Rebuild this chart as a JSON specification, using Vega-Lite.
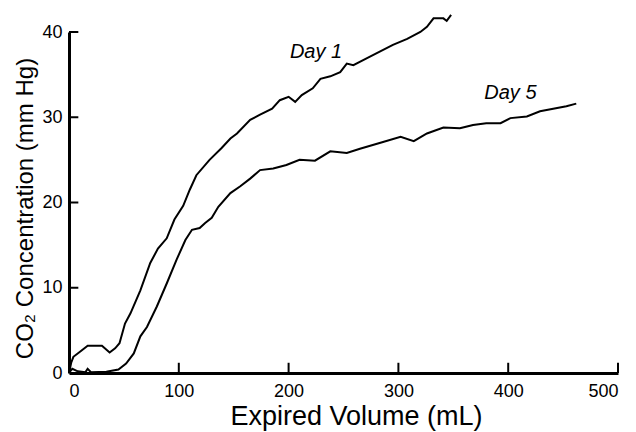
{
  "$schema": "https://vega.github.io/schema/vega-lite/v6.json",
  "width": 549,
  "height": 341,
  "autosize": {"type": "none"},
  "padding": {"left": 69, "top": 32, "right": 18, "bottom": 59},
  "background": "white",
  "config": {
    "view": {"stroke": null},
    "font": "Liberation Sans",
    "axis": {
      "grid": false,
      "domainColor": "black",
      "domainWidth": 3,
      "ticks": false,
      "tickSize": 0,
      "labelFont": "Liberation Sans",
      "labelFontSize": 18,
      "labelColor": "black",
      "titleFont": "Liberation Sans",
      "titleFontWeight": "normal",
      "titleColor": "black"
    }
  },
  "datasets": {
    "curves": [
      {"series": "Day 1", "volume": 0, "co2": 0},
      {"series": "Day 1", "volume": 2, "co2": 1.2},
      {"series": "Day 1", "volume": 4, "co2": 1.9},
      {"series": "Day 1", "volume": 10, "co2": 2.5},
      {"series": "Day 1", "volume": 17, "co2": 3.2},
      {"series": "Day 1", "volume": 30, "co2": 3.2},
      {"series": "Day 1", "volume": 37, "co2": 2.4},
      {"series": "Day 1", "volume": 42, "co2": 2.9},
      {"series": "Day 1", "volume": 46, "co2": 3.5},
      {"series": "Day 1", "volume": 51, "co2": 5.8},
      {"series": "Day 1", "volume": 56, "co2": 7.0},
      {"series": "Day 1", "volume": 65, "co2": 9.7},
      {"series": "Day 1", "volume": 74, "co2": 12.9},
      {"series": "Day 1", "volume": 81, "co2": 14.6},
      {"series": "Day 1", "volume": 89, "co2": 15.8},
      {"series": "Day 1", "volume": 96, "co2": 18.0},
      {"series": "Day 1", "volume": 104, "co2": 19.6},
      {"series": "Day 1", "volume": 110, "co2": 21.5},
      {"series": "Day 1", "volume": 116, "co2": 23.2},
      {"series": "Day 1", "volume": 128, "co2": 25.0},
      {"series": "Day 1", "volume": 139, "co2": 26.4},
      {"series": "Day 1", "volume": 147, "co2": 27.5},
      {"series": "Day 1", "volume": 153, "co2": 28.1},
      {"series": "Day 1", "volume": 165, "co2": 29.7},
      {"series": "Day 1", "volume": 174, "co2": 30.3},
      {"series": "Day 1", "volume": 185, "co2": 31.0},
      {"series": "Day 1", "volume": 192, "co2": 32.0},
      {"series": "Day 1", "volume": 200, "co2": 32.4},
      {"series": "Day 1", "volume": 206, "co2": 31.8},
      {"series": "Day 1", "volume": 212, "co2": 32.6},
      {"series": "Day 1", "volume": 222, "co2": 33.4},
      {"series": "Day 1", "volume": 229, "co2": 34.5},
      {"series": "Day 1", "volume": 238, "co2": 34.8},
      {"series": "Day 1", "volume": 247, "co2": 35.3},
      {"series": "Day 1", "volume": 253, "co2": 36.3},
      {"series": "Day 1", "volume": 259, "co2": 36.1},
      {"series": "Day 1", "volume": 271, "co2": 36.9},
      {"series": "Day 1", "volume": 283, "co2": 37.7},
      {"series": "Day 1", "volume": 295, "co2": 38.5},
      {"series": "Day 1", "volume": 308, "co2": 39.2},
      {"series": "Day 1", "volume": 320, "co2": 40.0},
      {"series": "Day 1", "volume": 326, "co2": 40.6},
      {"series": "Day 1", "volume": 332, "co2": 41.6},
      {"series": "Day 1", "volume": 341, "co2": 41.6},
      {"series": "Day 1", "volume": 344, "co2": 41.3},
      {"series": "Day 1", "volume": 348, "co2": 42.0},
      {"series": "Day 5", "volume": 0, "co2": 0},
      {"series": "Day 5", "volume": 3, "co2": 0.5},
      {"series": "Day 5", "volume": 8, "co2": 0.2},
      {"series": "Day 5", "volume": 15, "co2": 0.1},
      {"series": "Day 5", "volume": 17, "co2": 0.5},
      {"series": "Day 5", "volume": 20, "co2": 0.1},
      {"series": "Day 5", "volume": 34, "co2": 0.15},
      {"series": "Day 5", "volume": 45, "co2": 0.4},
      {"series": "Day 5", "volume": 52, "co2": 1.1},
      {"series": "Day 5", "volume": 59, "co2": 2.3},
      {"series": "Day 5", "volume": 65, "co2": 4.3},
      {"series": "Day 5", "volume": 71, "co2": 5.4},
      {"series": "Day 5", "volume": 80, "co2": 7.8},
      {"series": "Day 5", "volume": 89, "co2": 10.5},
      {"series": "Day 5", "volume": 98, "co2": 13.3},
      {"series": "Day 5", "volume": 106, "co2": 15.6},
      {"series": "Day 5", "volume": 112, "co2": 16.8},
      {"series": "Day 5", "volume": 119, "co2": 17.0},
      {"series": "Day 5", "volume": 124, "co2": 17.6},
      {"series": "Day 5", "volume": 130, "co2": 18.2},
      {"series": "Day 5", "volume": 136, "co2": 19.5},
      {"series": "Day 5", "volume": 147, "co2": 21.1},
      {"series": "Day 5", "volume": 156, "co2": 21.9},
      {"series": "Day 5", "volume": 165, "co2": 22.8},
      {"series": "Day 5", "volume": 174, "co2": 23.8},
      {"series": "Day 5", "volume": 186, "co2": 24.0},
      {"series": "Day 5", "volume": 198, "co2": 24.4},
      {"series": "Day 5", "volume": 210, "co2": 25.0},
      {"series": "Day 5", "volume": 224, "co2": 24.9},
      {"series": "Day 5", "volume": 238, "co2": 26.0},
      {"series": "Day 5", "volume": 253, "co2": 25.8},
      {"series": "Day 5", "volume": 265, "co2": 26.3},
      {"series": "Day 5", "volume": 286, "co2": 27.1},
      {"series": "Day 5", "volume": 302, "co2": 27.7},
      {"series": "Day 5", "volume": 314, "co2": 27.2},
      {"series": "Day 5", "volume": 326, "co2": 28.1},
      {"series": "Day 5", "volume": 341, "co2": 28.8},
      {"series": "Day 5", "volume": 356, "co2": 28.7},
      {"series": "Day 5", "volume": 368, "co2": 29.1},
      {"series": "Day 5", "volume": 380, "co2": 29.3},
      {"series": "Day 5", "volume": 393, "co2": 29.3},
      {"series": "Day 5", "volume": 402, "co2": 29.9},
      {"series": "Day 5", "volume": 417, "co2": 30.1},
      {"series": "Day 5", "volume": 429, "co2": 30.7},
      {"series": "Day 5", "volume": 441, "co2": 31.0},
      {"series": "Day 5", "volume": 453, "co2": 31.3},
      {"series": "Day 5", "volume": 462, "co2": 31.6}
    ],
    "labels": [
      {"label": "Day 1", "volume": 225, "co2": 37.7},
      {"label": "Day 5", "volume": 402, "co2": 32.8}
    ],
    "xticks": [
      {"volume": 100}, {"volume": 200}, {"volume": 300}, {"volume": 400}, {"volume": 500}
    ],
    "yticks": [
      {"co2": 10}, {"co2": 20}, {"co2": 30}, {"co2": 40}
    ]
  },
  "layer": [
    {
      "data": {"name": "curves"},
      "mark": {"type": "line", "strokeWidth": 2, "interpolate": "linear"},
      "encoding": {
        "x": {
          "field": "volume",
          "type": "quantitative",
          "scale": {"domain": [0, 500], "nice": false},
          "axis": {"values": [0, 100, 200, 300, 400, 500], "title": "Expired Volume (mL)", "titleFontSize": 27, "titleX": 287, "labelPadding": 9, "titlePadding": 3}
        },
        "y": {
          "field": "co2",
          "type": "quantitative",
          "scale": {"domain": [0, 40], "nice": false},
          "axis": {"values": [0, 10, 20, 30, 40], "title": "CO₂ Concentration (mm Hg)", "titleFontSize": 24, "titleY": 176, "labelPadding": 7, "titlePadding": 4}
        },
        "color": {
          "field": "series",
          "type": "nominal",
          "scale": {"range": ["black", "black"]},
          "legend": null
        }
      }
    },
    {
      "data": {"name": "xticks"},
      "mark": {"type": "rule", "color": "black", "strokeWidth": 2},
      "encoding": {
        "x": {"field": "volume", "type": "quantitative"},
        "y": {"datum": 0},
        "y2": {"datum": 1.2}
      }
    },
    {
      "data": {"name": "yticks"},
      "mark": {"type": "rule", "color": "black", "strokeWidth": 2},
      "encoding": {
        "y": {"field": "co2", "type": "quantitative"},
        "x": {"datum": 0},
        "x2": {"datum": 8.5}
      }
    },
    {
      "data": {"name": "labels"},
      "mark": {"type": "text", "font": "Liberation Sans", "fontStyle": "italic", "fontSize": 20, "color": "black", "align": "center", "baseline": "middle"},
      "encoding": {
        "x": {"field": "volume", "type": "quantitative"},
        "y": {"field": "co2", "type": "quantitative"},
        "text": {"field": "label"}
      }
    }
  ]
}
